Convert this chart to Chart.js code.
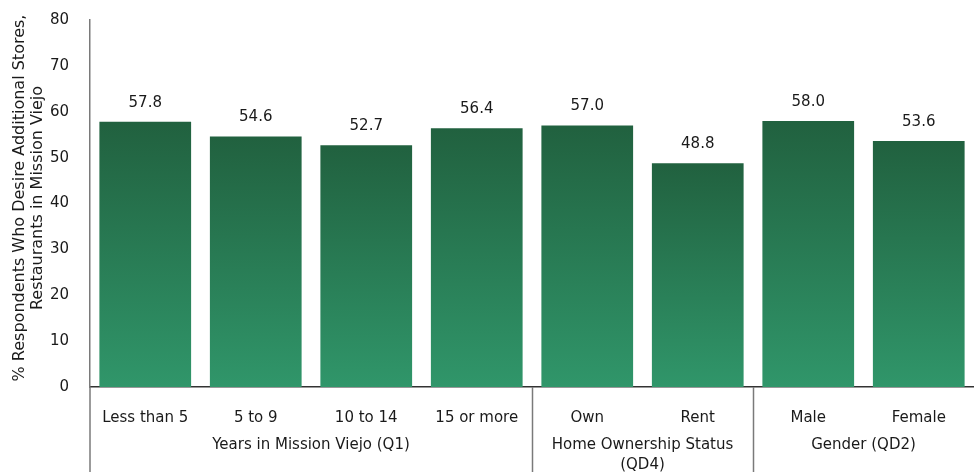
<!DOCTYPE html>
<html>
<head>
<meta charset="utf-8">
<script src="https://cdn.jsdelivr.net/npm/chart.js@4.4.0/dist/chart.umd.min.js"></script>
<style>
    html, body { margin: 0; padding: 0; background: #fff; }
</style>
</head>
<body>
<canvas id="chart" width="974" height="472"></canvas>
<script>
// chart data
const categories = ['Less than 5', '5 to 9', '10 to 14', '15 or more', 'Own', 'Rent', 'Male', 'Female'];
const values = [57.8, 54.6, 52.7, 56.4, 57.0, 48.8, 58.0, 53.6];
const groupLabels = [['Years in Mission Viejo (Q1)'], ['Home Ownership Status', '(QD4)'], ['Gender (QD2)']];
const groupStarts = [0, 4, 6];
const groupEnds = [3, 5, 7];
const yTicks = [0, 10, 20, 30, 40, 50, 60, 70, 80];
const yTitle = ['% Respondents Who Desire Additional Stores,', 'Restaurants in Mission Viejo'];

const FONT = 'DejaVu Sans';
const TEXT = '#1a1a1a';

function barGradient(context) {
    const chart = context.chart;
    if (!chart.chartArea) return '#2a7d56';
    const yScale = chart.scales.y;
    const top = yScale.getPixelForValue(context.raw);
    const bottom = yScale.getPixelForValue(0);
    const g = chart.ctx.createLinearGradient(0, top, 0, bottom);
    g.addColorStop(0, '#21613f');
    g.addColorStop(1, '#30966a');
    return g;
}

// draws bar values, y title, group labels and separators
const extrasPlugin = {
    id: 'extras',
    afterDraw(chart) {
        const ctx = chart.ctx;
        const area = chart.chartArea;
        const x = chart.scales.x;
        const pitch = x.getPixelForValue(1) - x.getPixelForValue(0);

        ctx.save();
        ctx.font = '15px "' + FONT + '"';
        ctx.fillStyle = TEXT;
        ctx.textAlign = 'center';
        ctx.textBaseline = 'middle';

        // value labels
        chart.getDatasetMeta(0).data.forEach((bar, i) => {
            ctx.fillText(values[i].toFixed(1), bar.x, bar.y - 19);
        });

        // y axis title
        ctx.font = '16px "' + FONT + '"';
        const cy = 198;
        yTitle.forEach((line, i) => {
            ctx.save();
            ctx.translate(20 + 18 * i, cy);
            ctx.rotate(-Math.PI / 2);
            ctx.fillText(line, 0, 0);
            ctx.restore();
        });
        ctx.font = '15px "' + FONT + '"';

        // y axis line running down through the category area
        ctx.strokeStyle = '#7a7a7a';
        ctx.lineWidth = 1.5;
        ctx.beginPath();
        ctx.moveTo(area.left, area.bottom);
        ctx.lineTo(area.left, chart.height);
        ctx.stroke();

        // group separators
        groupStarts.slice(1).forEach(s => {
            const px = Math.round(x.getPixelForValue(s) - pitch / 2) + 0.5;
            ctx.beginPath();
            ctx.moveTo(px, area.bottom);
            ctx.lineTo(px, chart.height);
            ctx.stroke();
        });

        // group labels
        groupLabels.forEach((lines, g) => {
            const cx = (x.getPixelForValue(groupStarts[g]) + x.getPixelForValue(groupEnds[g])) / 2;
            lines.forEach((line, j) => {
                ctx.fillText(line, cx, 445 + j * 20);
            });
        });
        ctx.restore();
    }
};

new Chart(document.getElementById('chart'), {
    type: 'bar',
    data: {
        labels: categories,
        datasets: [{
            data: values,
            backgroundColor: barGradient,
            borderWidth: 0,
            barPercentage: 0.83,
            categoryPercentage: 1
        }]
    },
    options: {
        responsive: false,
        animation: false,
        devicePixelRatio: 1,
        layout: { padding: { top: 20, right: -12, bottom: 0, left: 0 } },
        plugins: {
            legend: { display: false },
            tooltip: { enabled: false }
        },
        scales: {
            x: {
                grid: { display: false },
                border: { display: true, color: '#333', width: 1.5 },
                ticks: { color: TEXT, font: { family: FONT, size: 15 }, padding: 14, maxRotation: 0, autoSkip: false },
                afterFit: s => { s.height = 85; }
            },
            y: {
                min: 0,
                max: 80,
                afterBuildTicks: s => { s.ticks = yTicks.map(v => ({ value: v })); },
                grid: { display: false },
                border: { display: true, color: '#7a7a7a', width: 1.5 },
                ticks: { color: TEXT, font: { family: FONT, size: 15 }, padding: 13 },
                afterFit: s => {
                    s.width = 90;
                    s.paddingTop = 4;
                    s.paddingBottom = 4;
                }
            }
        }
    },
    plugins: [extrasPlugin]
});
</script>
</body>
</html>
